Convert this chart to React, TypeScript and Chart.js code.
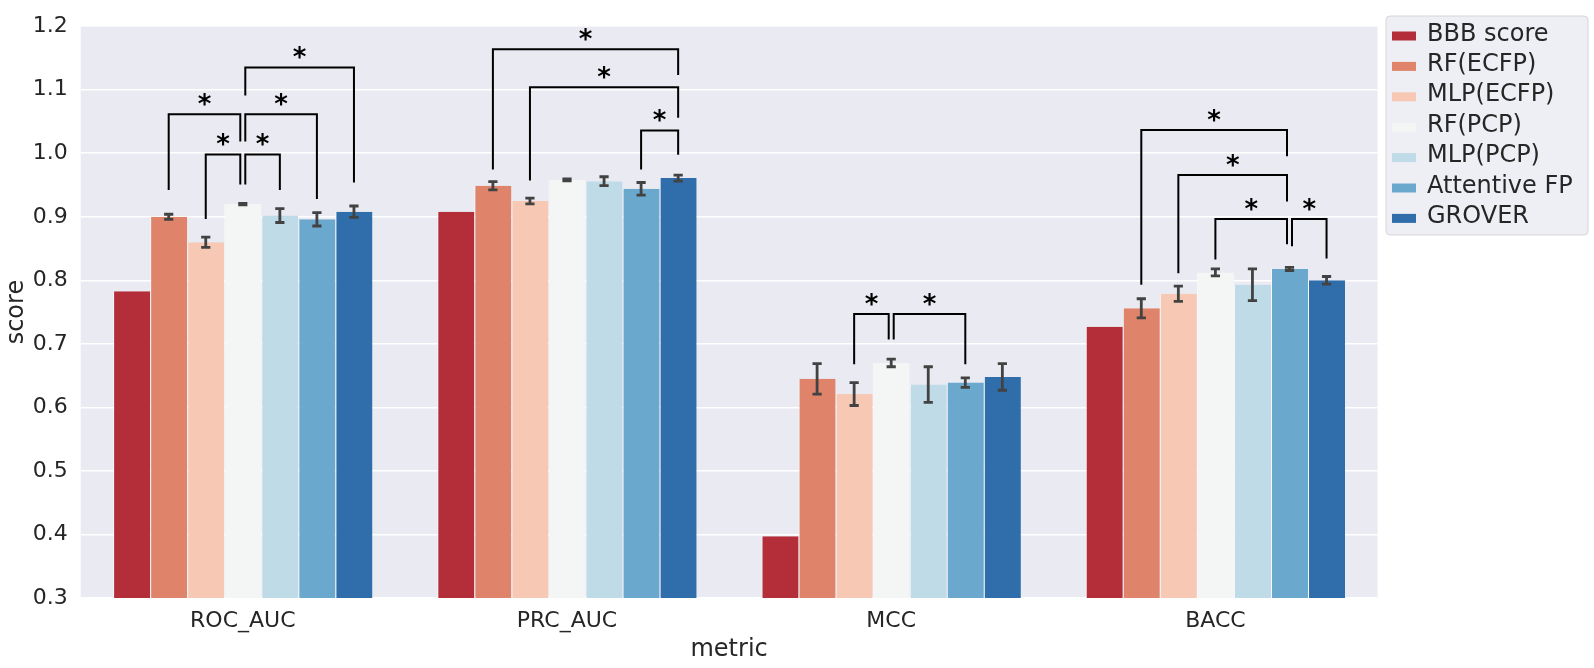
import React, { useEffect, useRef } from 'react';
import { Chart, registerables } from 'chart.js';

Chart.register(...registerables);

const categories = ['ROC_AUC', 'PRC_AUC', 'MCC', 'BACC'];
const models = ['BBB score', 'RF(ECFP)', 'MLP(ECFP)', 'RF(PCP)', 'MLP(PCP)', 'Attentive FP', 'GROVER'];
const colors = ['#b42e39', '#df846a', '#f7c9b4', '#f4f6f6', '#c0dbe8', '#6aa8cd', '#2f6eaa'];

// mean scores per category
const bbbScore = [0.783, 0.908, 0.397, 0.727];
const rfEcfp = [0.9, 0.949, 0.645, 0.756];
const mlpEcfp = [0.86, 0.925, 0.621, 0.779];
const rfPcp = [0.92, 0.958, 0.67, 0.8125];
const mlpPcp = [0.902, 0.956, 0.636, 0.793];
const attentiveFp = [0.896, 0.944, 0.639, 0.818];
const grover = [0.908, 0.961, 0.648, 0.8];

// half-widths of error bars
const bbbScoreErr = [0, 0, 0, 0];
const rfEcfpErr = [0.004, 0.0065, 0.024, 0.015];
const mlpEcfpErr = [0.008, 0.0045, 0.018, 0.012];
const rfPcpErr = [0.0012, 0.0015, 0.006, 0.0055];
const mlpPcpErr = [0.011, 0.007, 0.028, 0.025];
const attentiveFpErr = [0.0105, 0.01, 0.0075, 0.0025];
const groverErr = [0.009, 0.0047, 0.021, 0.006];

const seriesValues = [bbbScore, rfEcfp, mlpEcfp, rfPcp, mlpPcp, attentiveFp, grover];
const seriesErrors = [bbbScoreErr, rfEcfpErr, mlpEcfpErr, rfPcpErr, mlpPcpErr, attentiveFpErr, groverErr];

const yTicks = [0.3, 0.4, 0.5, 0.6, 0.7, 0.8, 0.9, 1.0, 1.1, 1.2];

// significance brackets: [category index, from model, to model, bar height, left leg end, right leg end]
const brackets: number[][] = [
  [0, 2, 3, 0.998, 0.8966, 0.951],
  [0, 3, 4, 0.998, 0.951, 0.942],
  [0, 1, 3, 1.0615, 0.942, 1.0185],
  [0, 3, 5, 1.0615, 1.0185, 0.928],
  [0, 3, 6, 1.135, 1.091, 0.954],
  [1, 1, 6, 1.1637, 0.9744, 1.123],
  [1, 2, 6, 1.104, 0.957, 1.056],
  [1, 5, 6, 1.0357, 0.9744, 0.9977],
  [2, 2, 3, 0.747, 0.668, 0.707],
  [2, 3, 5, 0.747, 0.707, 0.668],
  [3, 1, 5, 1.0366, 0.7929, 0.9952],
  [3, 2, 5, 0.9656, 0.811, 0.924],
  [3, 3, 5, 0.8966, 0.8327, 0.8567],
  [3, 5, 6, 0.8966, 0.8536, 0.8343],
];

const FONT = "'DejaVu Sans', sans-serif";

const overlayPlugin = {
  id: 'overlay',
  beforeDraw(chart: any) {
    const { ctx, chartArea: a } = chart;
    ctx.save();
    ctx.fillStyle = '#eaeaf2';
    ctx.fillRect(a.left, a.top, a.right - a.left, a.bottom - a.top);
    ctx.restore();
  },
  afterDatasetsDraw(chart: any) {
    const { ctx } = chart;
    const ys = chart.scales.y;
    ctx.save();
    // error bars
    ctx.strokeStyle = '#424242';
    ctx.lineWidth = 2.8;
    seriesValues.forEach((vals, d) => {
      const meta = chart.getDatasetMeta(d);
      vals.forEach((v, i) => {
        const e = seriesErrors[d][i];
        if (!e) return;
        const x = meta.data[i].x;
        const y1 = ys.getPixelForValue(v - e);
        const y2 = ys.getPixelForValue(v + e);
        ctx.beginPath();
        ctx.moveTo(x, y1);
        ctx.lineTo(x, y2);
        ctx.moveTo(x - 4.6, y1);
        ctx.lineTo(x + 4.6, y1);
        ctx.moveTo(x - 4.6, y2);
        ctx.lineTo(x + 4.6, y2);
        ctx.stroke();
      });
    });
    // brackets
    ctx.strokeStyle = '#000000';
    ctx.lineWidth = 2;
    ctx.fillStyle = '#000000';
    const starSize = 26;
    ctx.font = `bold ${starSize}px ${FONT}`;
    ctx.textAlign = 'center';
    ctx.textBaseline = 'alphabetic';
    brackets.forEach(([c, i, j, h, lb, rb]) => {
      const lOff = brackets.some((o) => o[0] === c && o[2] === i) ? 2.5 : 0;
      const rOff = brackets.some((o) => o[0] === c && o[1] === j) ? -2.5 : 0;
      const xl = chart.getDatasetMeta(i).data[c].x + lOff;
      const xr = chart.getDatasetMeta(j).data[c].x + rOff;
      const yh = ys.getPixelForValue(h);
      ctx.beginPath();
      ctx.moveTo(xl, ys.getPixelForValue(lb));
      ctx.lineTo(xl, yh);
      ctx.lineTo(xr, yh);
      ctx.lineTo(xr, ys.getPixelForValue(rb));
      ctx.stroke();
      ctx.fillText('*', (xl + xr) / 2, yh - 16 + 0.56 * starSize);
    });
    ctx.restore();
  },
  afterDraw(chart: any) {
    const { ctx, chartArea: a } = chart;
    ctx.save();
    // axis titles
    ctx.fillStyle = '#262626';
    ctx.font = `24px ${FONT}`;
    ctx.textAlign = 'center';
    ctx.textBaseline = 'alphabetic';
    ctx.fillText('metric', (a.left + a.right) / 2, 656);
    ctx.translate(23, (a.top + a.bottom) / 2);
    ctx.rotate(-Math.PI / 2);
    ctx.fillText('score', 0, 0);
    ctx.restore();

    // legend
    ctx.save();
    const lx = 1386, ly = 16, lw = 202, lh = 219, r = 4;
    ctx.beginPath();
    ctx.moveTo(lx + r, ly);
    ctx.lineTo(lx + lw - r, ly);
    ctx.arcTo(lx + lw, ly, lx + lw, ly + r, r);
    ctx.lineTo(lx + lw, ly + lh - r);
    ctx.arcTo(lx + lw, ly + lh, lx + lw - r, ly + lh, r);
    ctx.lineTo(lx + r, ly + lh);
    ctx.arcTo(lx, ly + lh, lx, ly + lh - r, r);
    ctx.lineTo(lx, ly + r);
    ctx.arcTo(lx, ly, lx + r, ly, r);
    ctx.closePath();
    ctx.fillStyle = '#eeeef5';
    ctx.fill();
    ctx.strokeStyle = '#d6d6d6';
    ctx.lineWidth = 1;
    ctx.stroke();
    ctx.font = `24px ${FONT}`;
    ctx.textAlign = 'left';
    ctx.textBaseline = 'alphabetic';
    models.forEach((m, k) => {
      const cy = 36 + k * 30.4;
      ctx.fillStyle = colors[k];
      ctx.fillRect(1392, cy - 4.5, 24, 9);
      ctx.fillStyle = '#262626';
      ctx.fillText(m, 1427, 40.5 + k * 30.4);
    });
    ctx.restore();
  },
};

export default function App() {
  const ref = useRef<HTMLCanvasElement>(null);
  useEffect(() => {
    document.body.style.margin = '0';
    const canvas = ref.current!;
    const chart = new Chart(canvas, {
      type: 'bar',
      data: {
        labels: categories,
        datasets: models.map((m, d) => ({
          label: m,
          data: seriesValues[d],
          backgroundColor: colors[d],
          borderColor: 'rgba(255,255,255,0.75)',
          borderWidth: { left: 1, right: 0, top: 0, bottom: 0 },
          borderSkipped: false,
          categoryPercentage: 0.8,
          barPercentage: 1.0,
        })),
      },
      options: {
        responsive: false,
        animation: false,
        devicePixelRatio: 1,
        layout: { padding: { left: 0, right: 216.5, top: 16, bottom: 0 } },
        plugins: { legend: { display: false }, tooltip: { enabled: false } },
        scales: {
          x: {
            grid: { display: false },
            border: { display: false },
            ticks: { font: { family: FONT, size: 22 }, color: '#262626', padding: 2 },
            afterFit: (s: any) => {
              s.height = 70;
            },
          },
          y: {
            min: 0.3,
            max: 1.2,
            afterBuildTicks: (s: any) => {
              s.ticks = yTicks.map((v) => ({ value: v }));
            },
            ticks: {
              font: { family: FONT, size: 22 },
              color: '#262626',
              padding: 13,
              callback: (v: any) => Number(v).toFixed(1),
            },
            grid: { color: '#ffffff', lineWidth: 1.6, drawTicks: false },
            border: { display: false },
            afterFit: (s: any) => {
              s.width = 80.7;
            },
          },
        },
      },
      plugins: [overlayPlugin],
    });
    return () => chart.destroy();
  }, []);
  return (
    <div style={{ position: 'absolute', left: 0, top: 0, width: 1594, height: 668 }}>
      <canvas ref={ref} width={1594} height={668} style={{ width: 1594, height: 668 }} />
    </div>
  );
}
